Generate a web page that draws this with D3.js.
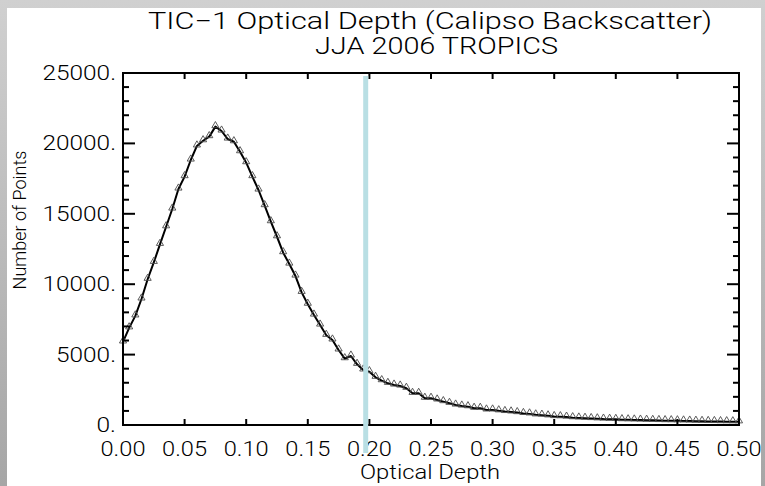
<!DOCTYPE html>
<html>
<head>
<meta charset="utf-8">
<script src="https://cdn.jsdelivr.net/npm/d3@7"></script>
<style>
  html, body { margin: 0; padding: 0; background: #fff; }
  svg { display: block; }
  text { font-family: Roboto, "DejaVu Sans", sans-serif; font-weight: 300; fill: #000; }
</style>
</head>
<body>
<svg id="chart" width="765" height="486"></svg>
<script>
// Histogram of optical depth, bins of 0.005
const binStart = 0;
const binStep = 0.005;
const counts = [
  5900, 6900, 7750, 8950, 10350, 11550, 12830, 14080, 15340, 16760,
  17640, 18820, 19820, 20190, 20480, 21190, 20880, 20310, 20120, 19410,
  18630, 17640, 16690, 15580, 14440, 13370, 12240, 11430, 10580, 9420,
  8580, 7810, 7100, 6370, 6040, 5330, 4710, 4900, 4310, 3910,
  3790, 3390, 3150, 2960, 2840, 2770, 2610, 2250, 2250, 1900,
  1900, 1780, 1660, 1540, 1420, 1350, 1300, 1190, 1190, 1070,
  1070, 1010, 960, 930, 880, 820, 790, 720, 700, 650,
  600, 590, 560, 520, 500, 480, 460, 440, 420, 410,
  400, 380, 370, 360, 350, 340, 330, 320, 310, 305,
  300, 290, 280, 270, 260, 255, 250, 240, 235, 230,
  225
];
const xTicks = [0, 0.05, 0.10, 0.15, 0.20, 0.25, 0.30, 0.35, 0.40, 0.45, 0.50];
const yTicks = [0, 5000, 10000, 15000, 20000, 25000];
const yMinor = d3.range(0, 25001, 1000);
const markerX = [0.197];   // highlighted optical depth threshold

const titleLines = ["TIC\u22121 Optical Depth (Calipso Backscatter)", "JJA 2006 TROPICS"];
const xTitle = "Optical Depth";
const yTitle = "Number of Points";

const points = counts.map((v, i) => ({ x: binStart + i * binStep, y: v }));

const svg = d3.select("#chart");
const W = 765, H = 486;
const m = { left: 123, right: 739, top: 73, bottom: 425 };

// grey frame around the plot page
const defs = svg.append("defs");
const grad = defs.append("linearGradient").attr("id", "frame")
  .attr("x1", 0).attr("y1", 0).attr("x2", 0).attr("y2", 1);
grad.append("stop").attr("offset", "0%").attr("stop-color", "#d0d0d0");
grad.append("stop").attr("offset", "100%").attr("stop-color", "#a6a6a6");
svg.append("rect").attr("width", W).attr("height", H).attr("fill", "url(#frame)");
svg.append("rect").attr("x", 7).attr("y", 8).attr("width", 754).attr("height", H - 8).attr("fill", "#fff");

const x = d3.scaleLinear().domain([0, 0.5]).range([m.left, m.right]);
const y = d3.scaleLinear().domain([0, 25000]).range([m.bottom, m.top]);

// titles
svg.append("text").attr("x", 430).attr("y", 29).attr("text-anchor", "middle")
  .attr("font-size", 23).attr("textLength", 564).attr("lengthAdjust", "spacingAndGlyphs")
  .text(titleLines[0]);
svg.append("text").attr("x", 436.5).attr("y", 54).attr("text-anchor", "middle")
  .attr("font-size", 23).attr("textLength", 243).attr("lengthAdjust", "spacingAndGlyphs")
  .text(titleLines[1]);

// data: connecting line and triangle symbols
const line = d3.line().x(d => x(d.x)).y(d => y(d.y));
svg.append("path").datum(points).attr("d", line)
  .attr("fill", "none").attr("stroke", "#000").attr("stroke-width", 2).attr("stroke-linejoin", "round");

const tri = d3.symbol().type(d3.symbolTriangle).size(22);
svg.append("g").selectAll("path").data(points).join("path")
  .attr("transform", d => `translate(${x(d.x)},${y(d.y) - 1})`)
  .attr("d", tri)
  .attr("fill", "none").attr("stroke", "#4a4a4a").attr("stroke-width", 0.9);

// frame axes
const g = svg.append("g").attr("stroke", "#000");
g.append("rect").attr("x", m.left).attr("y", m.top)
  .attr("width", m.right - m.left).attr("height", m.bottom - m.top)
  .attr("fill", "none").attr("stroke-width", 2);

// x ticks (bottom and top, pointing inward)
xTicks.forEach(t => {
  g.append("line").attr("x1", x(t)).attr("x2", x(t)).attr("y1", m.bottom).attr("y2", m.bottom - 6).attr("stroke-width", 2);
  g.append("line").attr("x1", x(t)).attr("x2", x(t)).attr("y1", m.top).attr("y2", m.top + 6).attr("stroke-width", 2);
});
// y ticks (left and right, pointing inward)
yMinor.forEach(t => {
  const len = (t % 5000 === 0) ? 12 : 6;
  g.append("line").attr("x1", m.left).attr("x2", m.left + len).attr("y1", y(t)).attr("y2", y(t)).attr("stroke-width", 2);
  g.append("line").attr("x1", m.right).attr("x2", m.right - len).attr("y1", y(t)).attr("y2", y(t)).attr("stroke-width", 2);
});

// tick labels
svg.append("g").selectAll("text").data(xTicks).join("text")
  .attr("x", d => x(d)).attr("y", 456).attr("text-anchor", "middle")
  .attr("font-size", 20).attr("textLength", 45).attr("lengthAdjust", "spacingAndGlyphs")
  .text(d => d3.format(".2f")(d));
svg.append("g").selectAll("text").data(yTicks).join("text")
  .attr("x", 116).attr("y", d => y(d) + 7).attr("text-anchor", "end")
  .attr("font-size", 20).attr("textLength", d => String(d).length * 13.5 + 6)
  .attr("lengthAdjust", "spacingAndGlyphs").text(d => d + ".");

// axis titles
svg.append("text").attr("x", 430).attr("y", 479).attr("text-anchor", "middle")
  .attr("font-size", 20).attr("textLength", 140).attr("lengthAdjust", "spacingAndGlyphs").text(xTitle);
svg.append("text").attr("transform", "translate(26,220) rotate(-90)").attr("text-anchor", "middle")
  .attr("font-size", 18).text(yTitle);

// highlighted threshold band
svg.append("g").selectAll("rect").data(markerX).join("rect")
  .attr("x", d => x(d) - 2.5).attr("y", 76).attr("width", 5).attr("height", 377)
  .attr("fill", "#b9dfe4");
</script>
</body>
</html>
